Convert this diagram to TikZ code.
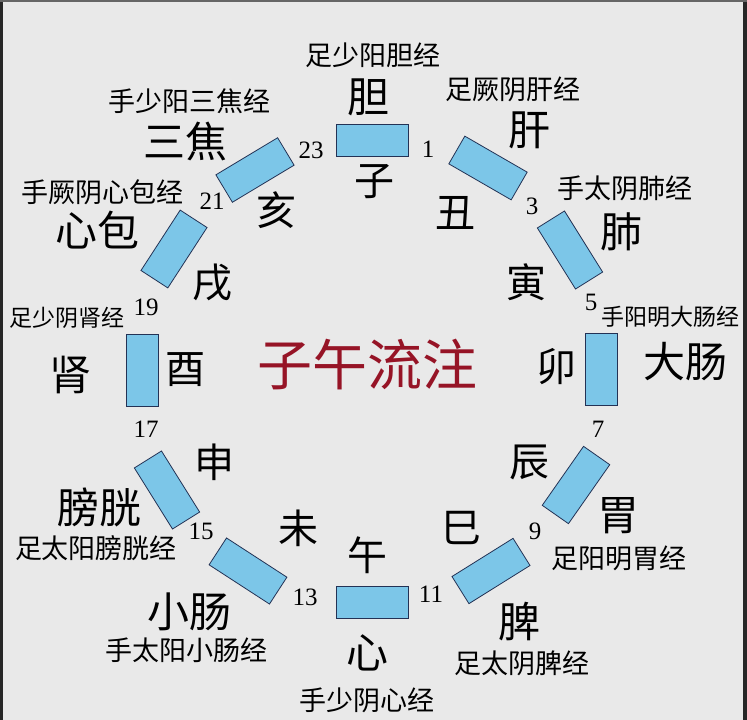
\documentclass[tikz,border=0pt]{standalone}
\usepackage{fontspec}
\setmainfont{Liberation Serif}
\newfontfamily\cjk{Noto Sans CJK SC}
\definecolor{bgc}{RGB}{233,233,233}
\definecolor{skyb}{RGB}{124,198,232}
\definecolor{edgec}{RGB}{35,50,85}
\definecolor{titlec}{RGB}{150,20,38}
\begin{document}
\begin{tikzpicture}[x=1pt,y=-1pt,
  slot/.style={draw=edgec, line width=0.8pt, fill=skyb, minimum width=72pt, minimum height=32pt, inner sep=0pt},
  organ/.style={font=\cjk\fontsize{42}{42}\selectfont, inner sep=0pt},
  branch/.style={font=\cjk\fontsize{40}{40}\selectfont, inner sep=0pt},
  mer/.style={font=\cjk\fontsize{27}{27}\selectfont, inner sep=0pt},
  mers/.style={font=\cjk\fontsize{23}{23}\selectfont, inner sep=0pt},
  hr/.style={font=\fontsize{25}{25}\selectfont, inner sep=0pt}]
\useasboundingbox (0,0) rectangle (747,720);
\fill[bgc] (0,0) rectangle (747,720);
\fill[black!85] (0,0) rectangle (3,720);
\fill[black!85] (743,0) rectangle (747,720);
\fill[black!60] (0,0) rectangle (747,1.5);
% slots
\node[slot] (rZi) at (372,140) {};
\node[slot, rotate=-30] (rChou) at (488,168) {};
\node[slot, rotate=-58] (rYin) at (570,250) {};
\node[slot, rotate=-90] (rMao) at (601,369) {};
\node[slot, rotate=55] (rChen) at (576,485) {};
\node[slot, rotate=32] (rSi) at (491,571) {};
\node[slot] (rWu) at (372,602) {};
\node[slot, rotate=-33] (rWei) at (248,571) {};
\node[slot, rotate=-58] (rShen) at (167,490) {};
\node[slot, rotate=90] (rYou) at (142,370) {};
\node[slot, rotate=57] (rXu) at (174,249) {};
\node[slot, rotate=31] (rHai) at (255,170) {};
% branches
\node[branch] (bZi) at (374,182) {子};
\node[branch] (bChou) at (455,213) {丑};
\node[branch] (bYin) at (526,282) {寅};
\node[branch] (bMao) at (556,367) {卯};
\node[branch] (bChen) at (529,462) {辰};
\node[branch] (bSi) at (461,528) {巳};
\node[branch] (bWu) at (367,555) {午};
\node[branch] (bWei) at (298,528) {未};
\node[branch] (bShen) at (214,462) {申};
\node[branch] (bYou) at (185,370) {酉};
\node[branch] (bXu) at (212,283) {戌};
\node[branch] (bHai) at (276,210) {亥};
% organs
\node[organ] (oDan) at (368,97) {胆};
\node[organ] (oGan) at (529,130) {肝};
\node[organ] (oFei) at (621,232) {肺};
\node[organ] (oDachang) at (685,362) {大肠};
\node[organ] (oWei) at (618,516) {胃};
\node[organ] (oPi) at (519,622) {脾};
\node[organ] (oXin) at (367,653) {心};
\node[organ] (oXiaochang) at (189,612) {小肠};
\node[organ] (oPangguang) at (99,507) {膀胱};
\node[organ] (oShen) at (70,375) {肾};
\node[organ] (oXinbao) at (97,230) {心包};
\node[organ] (oSanjiao) at (185,141) {三焦};
% meridians
\node[mer] (mDan) at (373,55) {足少阳胆经};
\node[mer] (mGan) at (513,89) {足厥阴肝经};
\node[mer] (mFei) at (625,188) {手太阴肺经};
\node[mers] (mDachang) at (670,317) {手阳明大肠经};
\node[mer] (mWei) at (619,558) {足阳明胃经};
\node[mer] (mPi) at (522,663) {足太阴脾经};
\node[mer] (mXin) at (367,700) {手少阴心经};
\node[mer] (mXiaochang) at (186,650) {手太阳小肠经};
\node[mer] (mPangguang) at (96,548) {足太阳膀胱经};
\node[mers] (mShen) at (67,318) {足少阴肾经};
\node[mer] (mXinbao) at (102,192) {手厥阴心包经};
\node[mer] (mSanjiao) at (189,101) {手少阳三焦经};
% hours
\node[hr] (h23) at (311,150) {23};
\node[hr] (h1) at (428,149) {1};
\node[hr] (h3) at (532,206) {3};
\node[hr] (h5) at (591,302) {5};
\node[hr] (h7) at (598,429) {7};
\node[hr] (h9) at (535,531) {9};
\node[hr] (h11) at (431,594) {11};
\node[hr] (h13) at (305,597) {13};
\node[hr] (h15) at (201,531) {15};
\node[hr] (h17) at (146,429) {17};
\node[hr] (h19) at (146,307) {19};
\node[hr] (h21) at (212,201) {21};
% title
\node[font=\cjk\fontsize{55}{55}\selectfont, text=titlec, inner sep=0pt] (title) at (367,365) {子午流注};
\end{tikzpicture}
\end{document}
